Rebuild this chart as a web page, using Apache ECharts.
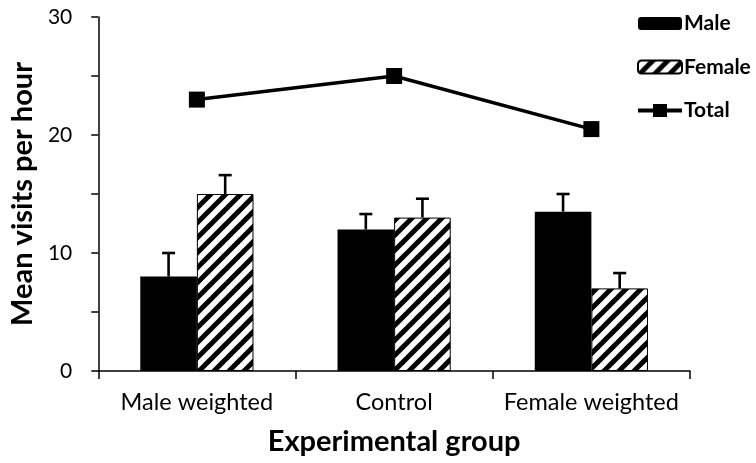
<!DOCTYPE html>
<html>
<head>
<meta charset="utf-8">
<script src="https://cdn.jsdelivr.net/npm/echarts@6/dist/echarts.min.js"></script>
<style>html,body{margin:0;padding:0;background:#fff}#c{width:756px;height:463px}</style>
</head>
<body>
<div id="c"></div>
<script>
var categories = ['Male weighted', 'Control', 'Female weighted'];
var maleValues = [8, 12, 13.5];
var maleErrTop = [10, 13.3, 15];
var femaleValues = [15, 13, 7];
var femaleErrTop = [16.6, 14.6, 8.3];
var totalValues = [23, 25, 20.5];
var yTicks = [0, 10, 20, 30];

var FONT = 'Lato';
var BAR_FRAC = 0.287;

function makeHatch() {
  var s = 15;
  var c = document.createElement('canvas');
  c.width = s; c.height = s;
  var g = c.getContext('2d');
  g.fillStyle = '#fff';
  g.fillRect(0, 0, s, s);
  g.strokeStyle = '#000';
  g.lineWidth = 5;
  for (var k = -s; k <= s; k += s) {
    g.beginPath();
    g.moveTo(k - 2, s + 2);
    g.lineTo(k + s + 2, -2);
    g.stroke();
  }
  return c;
}
var hatch = { image: makeHatch(), repeat: 'repeat' };

function errData(vals, tops) {
  return vals.map(function (v, i) { return [i, v, tops[i]]; });
}
function errRender(sign) {
  return function (params, api) {
    var i = api.value(0);
    var bw = api.size([1, 0])[0] * BAR_FRAC;
    var base = api.coord([i, api.value(1)]);
    var top = api.coord([i, api.value(2)]);
    var x = base[0] + sign * bw / 2;
    var cap = 6.5;
    var st = { stroke: '#000', lineWidth: 2.6 };
    return {
      type: 'group',
      children: [
        { type: 'line', shape: { x1: x, y1: base[1], x2: x, y2: top[1] }, style: st },
        { type: 'line', shape: { x1: x - cap, y1: top[1], x2: x + cap, y2: top[1] }, style: st }
      ]
    };
  };
}

var totalIcon = 'path://M0,4.5H15V0H29V4.5H44V8.5H29V13H15V8.5H0Z';

var chart = echarts.init(document.getElementById('c'), null, { renderer: 'canvas' });
chart.setOption({
  animation: false,
  backgroundColor: '#fff',
  textStyle: { fontFamily: FONT },
  grid: { left: 98, right: 66, top: 17, bottom: 92, containLabel: false },
  legend: {
    data: [
      { name: 'Male' },
      { name: 'Female' },
      { name: 'Total', icon: totalIcon, itemStyle: { color: '#000', borderWidth: 0 } }
    ],
    orient: 'vertical',
    left: 637,
    top: 13,
    padding: 0,
    itemWidth: 44,
    itemHeight: 13,
    itemGap: 22.5,
    textStyle: { fontFamily: FONT, fontWeight: 'bold', fontSize: 21, color: '#000', padding: [0, 0, 0, -3] },
    selectedMode: false
  },
  xAxis: {
    type: 'category',
    data: categories,
    axisLine: { lineStyle: { color: '#000', width: 1.5 } },
    axisTick: { show: true, length: 8, lineStyle: { color: '#000', width: 1.5 } },
    axisLabel: { color: '#000', fontSize: 23.5, fontFamily: FONT, margin: 19, interval: 0 },
    name: 'Experimental group',
    nameLocation: 'middle',
    nameGap: 56,
    nameTextStyle: { color: '#000', fontSize: 29, fontWeight: 'bold', fontFamily: FONT }
  },
  yAxis: {
    type: 'value',
    min: 0,
    max: 30,
    interval: 5,
    splitLine: { show: false },
    axisLine: { show: true, lineStyle: { color: '#000', width: 1.5 } },
    axisTick: { show: true, length: 7, lineStyle: { color: '#000', width: 1.5 } },
    axisLabel: {
      color: '#000', fontSize: 21, fontFamily: FONT, margin: 26,
      formatter: function (v) { return yTicks.indexOf(v) >= 0 ? String(v) : ''; }
    },
    name: 'Mean visits per hour',
    nameLocation: 'middle',
    nameGap: 55,
    nameTextStyle: { color: '#000', fontSize: 29, fontWeight: 'bold', fontFamily: FONT }
  },
  series: [
    {
      name: 'Male', type: 'bar', data: maleValues,
      barWidth: (BAR_FRAC * 100) + '%', barGap: '0%',
      itemStyle: { color: '#000' }
    },
    {
      name: 'Female', type: 'bar', data: femaleValues,
      barWidth: (BAR_FRAC * 100) + '%', barGap: '0%',
      itemStyle: { color: hatch, borderColor: '#000', borderWidth: 1 }
    },
    {
      name: 'Total', type: 'line', data: totalValues,
      symbol: 'rect', symbolSize: 16,
      lineStyle: { color: '#000', width: 3.5 },
      itemStyle: { color: '#000' },
      z: 5
    },
    {
      name: 'maleErr', type: 'custom', renderItem: errRender(-1),
      data: errData(maleValues, maleErrTop), encode: { x: 0, y: [1, 2] }, z: 4
    },
    {
      name: 'femaleErr', type: 'custom', renderItem: errRender(1),
      data: errData(femaleValues, femaleErrTop), encode: { x: 0, y: [1, 2] }, z: 4
    }
  ]
});
</script>
</body>
</html>
